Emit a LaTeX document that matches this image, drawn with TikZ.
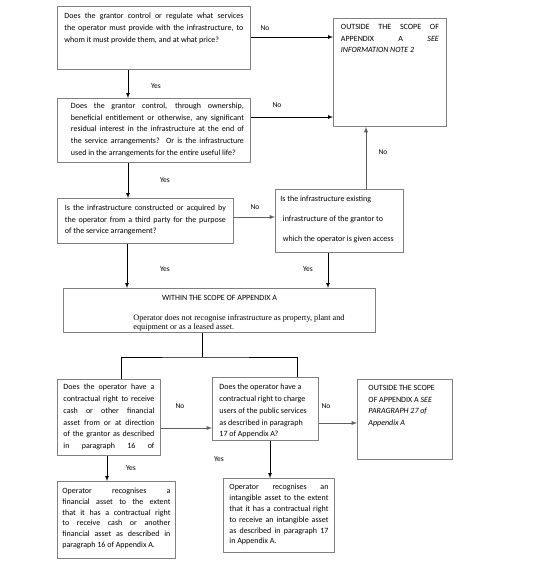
\documentclass[tikz,border=0pt]{standalone}
\usepackage{fontspec}
\setmainfont{Carlito}
\newfontfamily\timesfont{Liberation Serif}
\usetikzlibrary{arrows}

\definecolor{boxgray}{RGB}{128,128,128}
\definecolor{linegray}{RGB}{95,95,95}

\newcommand{\qtext}[4]{\parbox[t][#2][t]{#1}{\rule{0pt}{#3}#4}}

\tikzset{
  qbox/.style={draw=boxgray, line width=0.9pt, anchor=north west, inner xsep=7pt, inner ysep=0pt, font=\fontsize{8}{11.7}\selectfont},
  arr/.style={->, >=latex, line width=0.7pt},
  garr/.style={arr, draw=linegray, line width=0.9pt},
  lbl/.style={font=\fontsize{7.5}{9}\selectfont, inner sep=0pt},
}

\begin{document}
\begin{tikzpicture}[x=1pt, y=-1pt]
\useasboundingbox (0,0) rectangle (551,564);

% questions
\node[qbox] (q1) at (57,6) {\qtext{179pt}{63pt}{12.5pt}{Does the grantor control or regulate what services\linebreak the operator must provide with the infrastructure, to\linebreak whom it must provide them, and at what price?}};
\node[qbox, inner xsep=7.5pt] (out1) at (333,18) {\qtext{98pt}{108pt}{11pt}{OUTSIDE THE SCOPE OF\linebreak APPENDIX A \textit{SEE}\linebreak \textit{INFORMATION NOTE 2}}};
\node[qbox, inner xsep=0pt] (q2) at (57,98) {\qtext{193pt}{64pt}{10pt}{\leftskip=13.5pt \rightskip=6.5pt Does the grantor control, through ownership,\linebreak beneficial entitlement or otherwise, any significant\linebreak residual interest in the infrastructure at the end of\linebreak the service arrangements? Or is the infrastructure\linebreak used in the arrangements for the entire useful life?}};
\node[qbox, inner xsep=7.5pt] (q3) at (57,198) {\qtext{161pt}{45pt}{12pt}{Is the infrastructure constructed or acquired by\linebreak the operator from a third party for the purpose\linebreak of the service arrangement?}};
\node[qbox, inner xsep=5pt] (q4) at (275,189) {\qtext{118pt}{63pt}{12.5pt}{\raggedright\baselineskip=19.7pt Is the infrastructure existing\\ \hspace*{2.5pt}infrastructure of the grantor to\\ \hspace*{2.5pt}which the operator is given access}};

% scope
\node[qbox, inner xsep=0pt] (within) at (63,288) {\qtext{312pt}{44pt}{12pt}{\centering WITHIN THE SCOPE OF APPENDIX A\par\vspace{11pt}\raggedright\leftskip=70pt\timesfont\fontsize{8.2}{9}\selectfont Operator does not recognise infrastructure as property, plant and\\ equipment or as a leased asset.}};

% assets
\node[qbox, inner xsep=6pt] (q5) at (57,379) {\qtext{91pt}{76pt}{10.5pt}{\parfillskip=0pt Does the operator have a\linebreak contractual right to receive\linebreak cash or other financial\linebreak asset from or at direction\linebreak of the grantor as described\linebreak in paragraph 16 of}};
\node[qbox] (q6) at (212,377) {\qtext{92pt}{63pt}{12.5pt}{\raggedright Does the operator have a\\ contractual right to charge\\ users of the public services\\ as described in paragraph\\ 17 of Appendix A?}};
\node[qbox, inner xsep=0pt] (out2) at (357,379) {\qtext{95pt}{80pt}{11pt}{\raggedright\leftskip=11pt OUTSIDE THE SCOPE\\ OF APPENDIX A \textit{SEE}\\ \textit{PARAGRAPH 27 of}\\ \textit{Appendix A}}};
\node[qbox, inner xsep=5pt] (q7) at (57,481) {\qtext{108pt}{77pt}{12pt}{\baselineskip=10.8pt Operator recognises a\linebreak financial asset to the extent\linebreak that it has a contractual right\linebreak to receive cash or another\linebreak financial asset as described in\linebreak paragraph 16 of Appendix A.}};
\node[qbox, inner xsep=6pt] (q8) at (223,478) {\qtext{99pt}{74pt}{11.5pt}{\baselineskip=10.8pt Operator recognises an\linebreak intangible asset to the extent\linebreak that it has a contractual right\linebreak to receive an intangible asset\linebreak as described in paragraph 17\linebreak in Appendix A.}};

% connectors
\draw[arr] (q1.south -| 128,0) -- (q2.north -| 128,0);
\draw[arr] (q1.east |- 0,37) -- (out1.west |- 0,37);
\draw[arr] (q2.east |- 0,117) -- (out1.west |- 0,117);
\draw[arr] (q2.south -| 128,0) -- (q3.north -| 128,0);
\draw[garr] (q3.east |- 0,217) -- (q4.west |- 0,217);
\draw[garr] (q4.north -| 366,0) -- (out1.south -| 366,0);
\draw[arr] (q3.south -| 127,0) -- (within.north -| 127,0);
\draw[arr] (q4.south -| 328,0) -- (within.north -| 328,0);
\coordinate (split) at (202,357);
\draw[line width=0.7pt] (within.south -| split) -- (split);
\draw[line width=0.7pt] (q5.north -| 121,0) |- (split) -| (q6.north -| 297,0);
\draw[garr] (q5.east |- 0,428) -- (q6.west |- 0,428);
\draw[garr] (q6.east |- 0,423) -- (out2.west |- 0,423);
\draw[arr] (q5.south -| 107,0) -- (q7.north -| 107,0);
\draw[arr] (q6.south -| 270,0) -- (q8.north -| 270,0);

% labels
\node[lbl] (yes1) at (156,86) {Yes};
\node[lbl] (no1) at (265,28) {No};
\node[lbl] (no2) at (277,105) {No};
\node[lbl] (yes2) at (165,180) {Yes};
\node[lbl] (no3) at (255,207) {No};
\node[lbl] (no4) at (383,152) {No};
\node[lbl] (yes3) at (165,269) {Yes};
\node[lbl] (yes4) at (308,269) {Yes};
\node[lbl] (no5) at (180,406) {No};
\node[lbl] (no6) at (326,406) {No};
\node[lbl] (yes5) at (131,468) {Yes};
\node[lbl] (yes6) at (219,459) {Yes};
\end{tikzpicture}
\end{document}
